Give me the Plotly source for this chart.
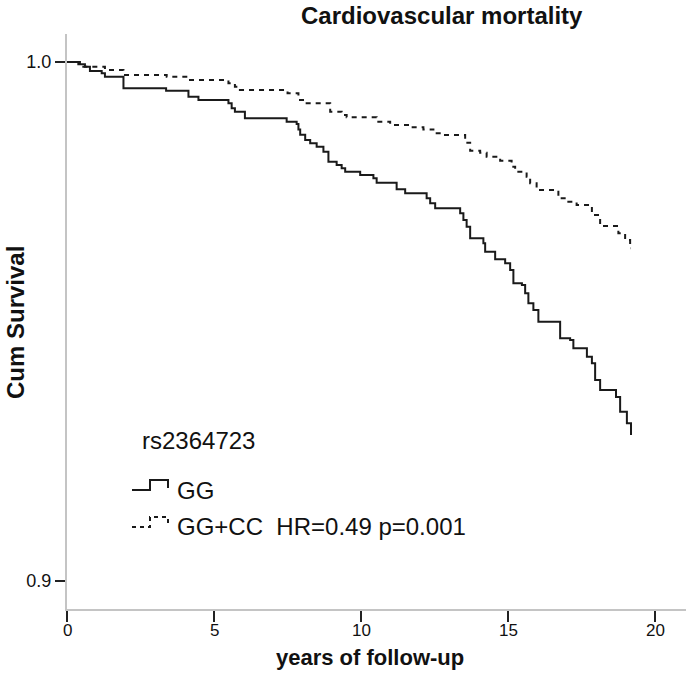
import plotly.graph_objects as go

# Kaplan-Meier step data (time in years, cumulative survival)
gg_time = [0, 0.385, 0.61, 0.78, 1.18, 1.29, 1.92, 3.37, 4.13, 4.47, 5.49, 5.60, 5.71, 6.05,
           7.47, 7.81, 7.87, 7.93, 8.10, 8.27, 8.49, 8.72, 8.89, 9.17, 9.34, 9.46, 9.97,
           10.42, 10.53, 11.21, 11.50, 12.23, 12.35, 12.52, 13.37, 13.48, 13.59, 13.71,
           14.16, 14.22, 14.56, 14.90, 15.07, 15.18, 15.47, 15.58, 15.69, 15.86, 16.03,
           16.77, 17.11, 17.22, 17.68, 17.85, 17.96, 18.13, 18.67, 18.81, 19.04, 19.18]
gg_surv = [1.0, 0.99955, 0.9991, 0.99827, 0.99782, 0.99717, 0.99493, 0.99448, 0.99332, 0.99268,
           0.99204, 0.99107, 0.99043, 0.98915, 0.9885, 0.98805, 0.9870, 0.9860, 0.98497,
           0.98433, 0.98369, 0.98272, 0.9808, 0.98015, 0.97951, 0.97887, 0.97823, 0.97759,
           0.97675, 0.97547, 0.97470, 0.97373, 0.97277, 0.97181, 0.97085, 0.96956, 0.96827,
           0.96603, 0.96507, 0.96345, 0.96199, 0.96121, 0.95992, 0.95735, 0.95703, 0.95543,
           0.95350, 0.95222, 0.94996, 0.94676, 0.94644, 0.94483, 0.94322, 0.94194, 0.93873,
           0.93680, 0.93545, 0.93262, 0.93038, 0.92813]

cc_time = [0, 0.44, 1.29, 1.92, 3.39, 4.13, 5.49, 5.71, 5.88, 7.5, 7.87, 8.15, 8.95, 9.34,
           9.51, 10.53, 10.99, 11.67, 12.12, 12.46, 12.80, 13.54, 13.71, 14.05, 14.27, 14.73,
           15.12, 15.24, 15.63, 15.75, 15.97, 16.71, 17.0, 17.33, 17.85, 18.13, 18.75, 18.98,
           19.15, 19.18]
cc_surv = [1.0, 0.9991, 0.99846, 0.9975, 0.99717, 0.99653, 0.99589, 0.99525, 0.99461, 0.99396,
           0.99268, 0.99204, 0.99043, 0.98979, 0.98934, 0.98850, 0.98786, 0.98741, 0.98702,
           0.98626, 0.98593, 0.98446, 0.98291, 0.98253, 0.98176, 0.98099, 0.97983, 0.97887,
           0.97790, 0.97662, 0.97534, 0.97373, 0.97309, 0.97245, 0.97052, 0.96840, 0.96699,
           0.96570, 0.96410, 0.96410]

x_ticks = [0, 5, 10, 15, 20]
x_ticktext = ["0", "5", "10", "15", "20"]
y_ticks = [0.9, 1.0]
y_ticktext = ["0.9", "1.0"]

FONT = "Liberation Sans, Arial, sans-serif"
W, H = 691, 673
L, R, T, B = 67, 5, 34, 64
pw, ph = W - L - R, H - T - B


def px(xp):
    return (xp - L) / pw


def py(yp):
    return (H - B - yp) / ph


fig = go.Figure()
fig.add_trace(go.Scatter(x=gg_time, y=gg_surv, mode="lines", line_shape="hv",
                         line=dict(color="#1a1a1a", width=2), showlegend=False))
fig.add_trace(go.Scatter(x=cc_time, y=cc_surv, mode="lines", line_shape="hv",
                         line=dict(color="#1a1a1a", width=2, dash="5px,5px"), showlegend=False))

fig.update_layout(
    width=W, height=H,
    margin=dict(l=L, r=R, t=T, b=B),
    plot_bgcolor="white", paper_bgcolor="white",
    font=dict(family=FONT, color="#111"),
    xaxis=dict(range=[0, 21.05], tickvals=x_ticks, ticks="outside", ticklen=11,
               tickwidth=2, tickcolor="#222", showline=True, linecolor="#c4c4c4",
               linewidth=2, showgrid=False, zeroline=False, showticklabels=False),
    yaxis=dict(range=[0.8946, 1.0054], tickvals=y_ticks, ticktext=y_ticktext,
               ticks="outside", ticklen=10, tickwidth=2, tickcolor="#222",
               showline=True, linecolor="#c4c4c4", linewidth=2, showgrid=False,
               zeroline=False, tickfont=dict(size=18, family=FONT, color="#111")),
)

# x tick labels placed at the axis tick values
for v, t in zip(x_ticks, x_ticktext):
    fig.add_annotation(text=t, xref="x", yref="paper", x=v, y=py(630),
                       xanchor="center", yanchor="middle", showarrow=False, borderpad=0,
                       font=dict(size=17, family=FONT, color="#111"))

fig.add_annotation(text="<b>Cardiovascular mortality</b>", xref="paper", yref="paper",
                   x=px(442), y=py(15), xanchor="center", yanchor="middle", showarrow=False,
                   font=dict(size=24, family=FONT, color="#111"))
fig.add_annotation(text="<b>years of follow-up</b>", xref="paper", yref="paper",
                   x=px(370), y=py(657), xanchor="center", yanchor="middle", showarrow=False,
                   borderpad=0, font=dict(size=22, family=FONT, color="#111"))
fig.add_annotation(text="<b>Cum Survival</b>", xref="paper", yref="paper", x=px(15), y=py(323),
                   xanchor="center", yanchor="middle", showarrow=False, textangle=-90,
                   font=dict(size=24, family=FONT, color="#111"))
fig.add_annotation(text="rs2364723", xref="paper", yref="paper", x=px(140), y=py(440),
                   xanchor="left", yanchor="middle", showarrow=False,
                   font=dict(size=24, family=FONT, color="#111"))
for txt, yy in [("GG", 490), ("GG+CC  HR=0.49 p=0.001", 526)]:
    fig.add_annotation(text=txt, xref="paper", yref="paper", x=px(175), y=py(yy),
                       xanchor="left", yanchor="middle", showarrow=False,
                       font=dict(size=24, family=FONT, color="#111"))


def glyph(y0, dash):
    pts = [(132, y0 + 10), (150, y0 + 10), (150, y0), (168, y0), (168, y0 + 8)]
    path = "M " + " L ".join(f"{px(a):.5f},{py(b):.5f}" for a, b in pts)
    fig.add_shape(type="path", path=path, xref="paper", yref="paper",
                  line=dict(color="#1a1a1a", width=2, dash=dash))


glyph(480, "solid")
glyph(517, "4px,4px")

fig.write_html("out.html", config={"displayModeBar": False},
               post_script="document.body.style.margin='0';document.body.style.overflow='hidden';")
